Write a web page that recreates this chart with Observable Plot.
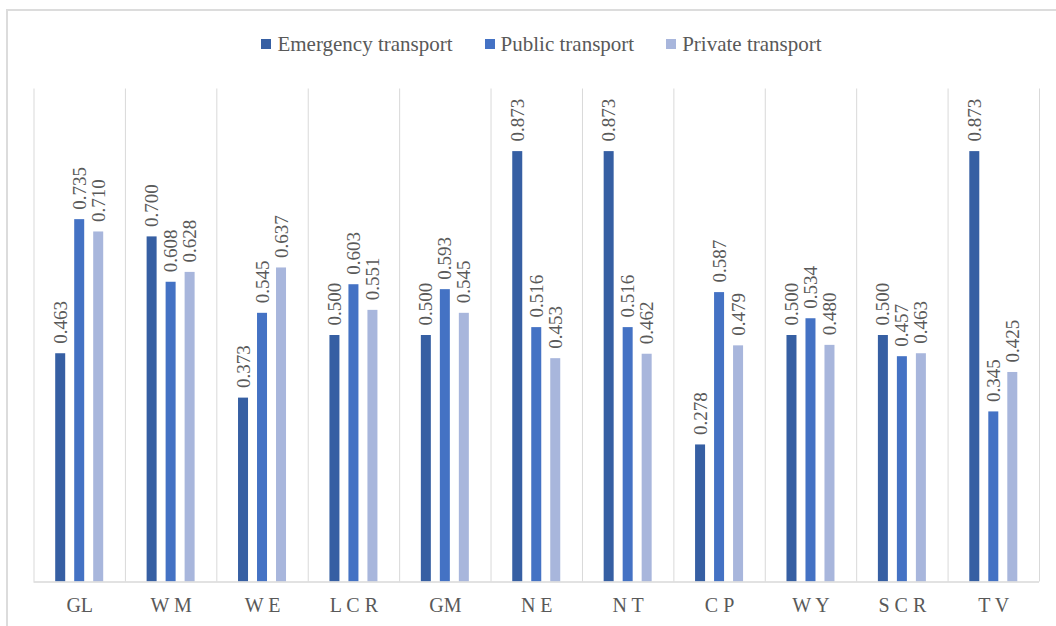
<!DOCTYPE html>
<html>
<head>
<meta charset="utf-8">
<script src="https://cdn.jsdelivr.net/npm/d3@7"></script>
<script src="https://cdn.jsdelivr.net/npm/@observablehq/plot@0.6"></script>
<style>
  html, body { margin: 0; padding: 0; background: #fff; width: 1056px; height: 626px; overflow: hidden; }
  #frame { position: absolute; left: 6px; top: 9px; width: 1060px; height: 630px; border-left: 2px solid #dcdcdc; border-top: 2px solid #dcdcdc; box-sizing: border-box; }
  #legend { position: absolute; left: 0; top: 30px; width: 1056px; height: 28px; display: flex; justify-content: center; align-items: center; padding-left: 27px; box-sizing: border-box;
    font-family: "Liberation Serif", "Times New Roman", serif; font-size: 21px; color: #595959; }
  .item { display: flex; align-items: center; margin: 0 16px; }
  .sw { width: 10px; height: 10px; margin-right: 6px; }
  #chart { position: absolute; left: 0; top: 70px; }
</style>
</head>
<body>
<div id="frame"></div>
<div id="legend"></div>
<div id="chart"></div>
<script>
const categories = ["GL", "W M", "W E", "L C R", "GM", "N E", "N T", "C P", "W Y", "S C R", "T V"];
const seriesNames = ["Emergency transport", "Public transport", "Private transport"];
const emergency = [0.463, 0.700, 0.373, 0.500, 0.500, 0.873, 0.873, 0.278, 0.500, 0.500, 0.873];
const publicT   = [0.735, 0.608, 0.545, 0.603, 0.593, 0.516, 0.516, 0.587, 0.534, 0.457, 0.345];
const privateT  = [0.710, 0.628, 0.637, 0.551, 0.545, 0.453, 0.462, 0.479, 0.480, 0.463, 0.425];
const colors = ["#365FA3", "#4472C4", "#A8B6DC"];

const seriesValues = [emergency, publicT, privateT];
const W = 1056, H = 556, ml = 33.5, mr = 17, mt = 18.5, mb = 44.5;
const bw = (W - ml - mr) / categories.length;
const barW = 10, step = 19;
const serif = "'Liberation Serif', 'Times New Roman', serif";

const marks = [];
// vertical separators
marks.push(Plot.ruleX(categories, {x: d => d, y1: 0, y2: 1, dx: -bw / 2, stroke: "#d9d9d9", strokeWidth: 1}));
marks.push(Plot.ruleX([categories[categories.length - 1]], {x: d => d, y1: 0, y2: 1, dx: bw / 2, stroke: "#d9d9d9", strokeWidth: 1}));

seriesValues.forEach((vals, i) => {
  const o = (i - 1) * step;
  const data = categories.map((c, j) => ({cat: c, v: vals[j]}));
  marks.push(Plot.barY(data, {
    x: "cat", y: "v", fill: colors[i],
    insetLeft: bw / 2 + o - barW / 2, insetRight: bw / 2 - o - barW / 2
  }));
  marks.push(Plot.text(data, {
    x: "cat", y: "v", text: d => d.v.toFixed(3), dx: o, dy: -10,
    rotate: -90, textAnchor: "start", lineAnchor: "middle",
    fill: "#595959", fontSize: 19, fontFamily: serif
  }));
});
marks.push(Plot.ruleY([0], {stroke: "#d9d9d9", strokeWidth: 1.5}));

const chart = Plot.plot({
  width: W, height: H,
  marginLeft: ml, marginRight: mr, marginTop: mt, marginBottom: mb,
  style: {fontFamily: serif, background: "transparent", color: "#595959"},
  x: {domain: categories, padding: 0, round: false, label: null, tickSize: 0, tickPadding: 16, fontSize: 20},
  y: {domain: [0, 1], axis: null},
  marks
});
chart.querySelectorAll("g[aria-label='x-axis tick label']").forEach(g => { g.setAttribute("font-size", 20); g.setAttribute("font-family", serif); });
document.getElementById("chart").appendChild(chart);

const legend = document.getElementById("legend");
seriesNames.forEach((n, i) => {
  const it = document.createElement("div");
  it.className = "item";
  const sw = document.createElement("div");
  sw.className = "sw";
  sw.style.background = colors[i];
  const t = document.createElement("span");
  t.textContent = n;
  it.appendChild(sw); it.appendChild(t);
  legend.appendChild(it);
});
</script>
</body>
</html>
